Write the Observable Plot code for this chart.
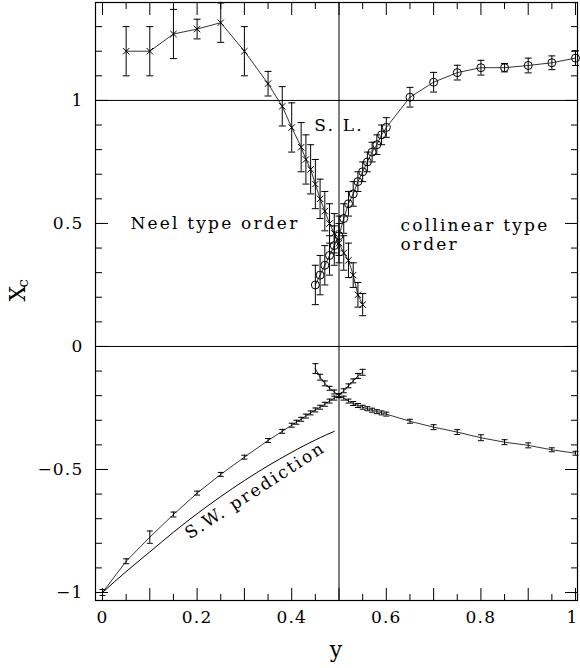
<!DOCTYPE html>
<html><head><meta charset="utf-8">
<script src="https://cdn.jsdelivr.net/npm/d3@7"></script>
<script src="https://cdn.jsdelivr.net/npm/@observablehq/plot@0.6"></script>
<style>
body{margin:0;background:#fff;}
.chart text{letter-spacing:1.2px;}
.chart g.annot text{letter-spacing:2.2px;}
</style></head><body><div id="c"></div>
<script>
// Upper region, Neel type order (x markers)
const neelX = [0.05,0.1,0.15,0.2,0.25,0.3,0.35,0.38,0.4,0.42,0.43,0.44,0.45,0.46,0.47,0.48,0.49,0.5,0.51,0.52,0.53,0.54,0.55];
const neelY = [1.2,1.2,1.27,1.29,1.316,1.2,1.068,0.976,0.89,0.81,0.76,0.72,0.66,0.6,0.55,0.5,0.46,0.42,0.38,0.35,0.29,0.21,0.17];
const neelE = [0.1,0.1,0.1,0.04,0.08,0.1,0.05,0.08,0.1,0.1,0.1,0.1,0.1,0.08,0.08,0.08,0.08,0.08,0.07,0.07,0.05,0.05,0.045];
// Upper region, collinear type order (circles)
const collX = [0.45,0.46,0.47,0.48,0.49,0.5,0.51,0.52,0.53,0.54,0.55,0.56,0.57,0.58,0.59,0.6,0.65,0.7,0.75,0.8,0.85,0.9,0.95,1.0];
const collY = [0.25,0.29,0.33,0.37,0.41,0.45,0.52,0.58,0.62,0.67,0.71,0.75,0.79,0.82,0.86,0.89,1.013,1.074,1.113,1.133,1.133,1.142,1.153,1.172];
const collE = [0.08,0.08,0.08,0.08,0.08,0.08,0.06,0.05,0.05,0.04,0.04,0.04,0.04,0.04,0.04,0.04,0.04,0.04,0.03,0.03,0.017,0.03,0.028,0.03];
// Lower region, Neel branch
const lowNeelX = [0,0.05,0.1,0.15,0.2,0.25,0.3,0.35,0.38,0.4,0.41,0.42,0.43,0.44,0.45,0.46,0.47,0.48,0.49,0.5,0.51,0.52,0.53,0.54,0.55];
const lowNeelY = [-1,-0.873,-0.775,-0.683,-0.596,-0.52,-0.45,-0.382,-0.345,-0.32,-0.308,-0.296,-0.283,-0.27,-0.258,-0.247,-0.235,-0.222,-0.21,-0.2,-0.18,-0.16,-0.14,-0.12,-0.105];
const lowNeelE = [0.012,0.01,0.025,0.01,0.008,0.008,0.008,0.008,0.008,0.008,0.008,0.008,0.008,0.008,0.008,0.008,0.008,0.008,0.008,0.008,0.008,0.008,0.008,0.01,0.012];
// Lower region, collinear branch
const lowCollX = [0.45,0.46,0.47,0.48,0.49,0.5,0.51,0.52,0.53,0.54,0.55,0.56,0.57,0.58,0.59,0.6,0.65,0.7,0.75,0.8,0.85,0.9,0.95,1.0];
const lowCollY = [-0.09,-0.125,-0.15,-0.17,-0.185,-0.2,-0.21,-0.222,-0.232,-0.24,-0.247,-0.253,-0.259,-0.265,-0.27,-0.275,-0.304,-0.328,-0.348,-0.371,-0.389,-0.402,-0.42,-0.434];
const lowCollE = [0.02,0.012,0.01,0.008,0.008,0.008,0.008,0.008,0.008,0.008,0.008,0.008,0.008,0.008,0.008,0.008,0.008,0.01,0.01,0.012,0.01,0.01,0.008,0.008];
// Spin-wave prediction curve
const swX = [0,0.05,0.1,0.15,0.2,0.25,0.3,0.35,0.4,0.45,0.49];
const swY = [-1,-0.915,-0.835,-0.755,-0.68,-0.61,-0.545,-0.485,-0.43,-0.38,-0.345];
// Ticks
const xLabelTicks = [0,0.2,0.4,0.6,0.8,1];
const xMajorTicks = [0,0.1,0.2,0.3,0.4,0.5,0.6,0.7,0.8,0.9,1];
const xMinorTicks = [0.05,0.15,0.25,0.35,0.45,0.55,0.65,0.75,0.85,0.95];
const yLabelTicks = [-1,-0.5,0,0.5,1];
const yMinorTicks = [-0.9,-0.8,-0.7,-0.6,-0.4,-0.3,-0.2,-0.1,0.1,0.2,0.3,0.4,0.6,0.7,0.8,0.9,1.1,1.2,1.3];
const refLinesY = [1, 0];
const refLinesX = [0.5];

const build = (xs, ys, es) => xs.map((x, i) => ({x, y: ys[i], e: es ? es[i] : 0}));
const neel = build(neelX, neelY, neelE);
const coll = build(collX, collY, collE);
const lowNeel = build(lowNeelX, lowNeelY, lowNeelE);
const lowColl = build(lowCollX, lowCollY, lowCollE);
const sw = build(swX, swY);

const hline = {draw(ctx, size){const r = Math.sqrt(size/Math.PI); ctx.moveTo(-r,0); ctx.lineTo(r,0);}};
const FONT = "DejaVu Serif";
const fmt = d => d === 0 ? "0" : (d < 0 ? "\u2212" + Math.abs(d) : String(d));

function errMarks(data, cap) {
  return [
    Plot.ruleX(data, {x: "x", y1: d => d.y - d.e, y2: d => d.y + d.e, stroke: "#000", strokeWidth: 1}),
    Plot.dot(data, {x: "x", y: d => d.y + d.e, symbol: hline, r: cap, stroke: "#000", strokeWidth: 1}),
    Plot.dot(data, {x: "x", y: d => d.y - d.e, symbol: hline, r: cap, stroke: "#000", strokeWidth: 1})
  ];
}

const chart = Plot.plot({
  width: 580, height: 668,
  marginLeft: 95, marginRight: 3, marginTop: 2, marginBottom: 68,
  className: "chart",
  style: {fontFamily: FONT, fontSize: "17px", background: "#fff", color: "#000"},
  x: {domain: [-0.0148, 1.0042]},
  y: {domain: [-1.0325, 1.398]},
  marks: [
    Plot.ruleY(refLinesY, {stroke: "#000", strokeWidth: 1}),
    Plot.ruleX(refLinesX, {stroke: "#000", strokeWidth: 1}),
    Plot.frame({stroke: "#000", strokeWidth: 1.2}),
    Plot.axisX(xMajorTicks, {anchor: "bottom", tickSize: -12, tickFormat: () => "", label: null}),
    Plot.axisX(xMajorTicks, {anchor: "top", tickSize: -12, tickFormat: () => "", label: null}),
    Plot.axisX(xMinorTicks, {anchor: "bottom", tickSize: -6, tickFormat: () => "", label: null}),
    Plot.axisX(xMinorTicks, {anchor: "top", tickSize: -6, tickFormat: () => "", label: null}),
    Plot.axisY(yLabelTicks, {anchor: "left", tickSize: -13, tickFormat: () => "", label: null}),
    Plot.axisY(yLabelTicks, {anchor: "right", tickSize: -13, tickFormat: () => "", label: null}),
    Plot.axisY(yMinorTicks, {anchor: "left", tickSize: -7, tickFormat: () => "", label: null}),
    Plot.axisY(yMinorTicks, {anchor: "right", tickSize: -7, tickFormat: () => "", label: null}),
    Plot.text(xLabelTicks.filter(d => d < 1), {x: d => d, frameAnchor: "bottom", dy: 22, text: fmt, fontSize: 17}),
    Plot.text(xLabelTicks.filter(d => d === 1), {x: d => d, frameAnchor: "bottom", dy: 22, dx: 3, text: fmt, fontSize: 17, textAnchor: "end"}),
    Plot.axisY(yLabelTicks, {anchor: "left", tickSize: 0, tickPadding: 12, tickFormat: fmt, label: null, fontSize: 17}),
    // S.W. prediction
    Plot.line(sw, {x: "x", y: "y", stroke: "#000", strokeWidth: 1, curve: "natural"}),
    // lower branches
    Plot.line(lowNeel, {x: "x", y: "y", stroke: "#000", strokeWidth: 0.8}),
    ...errMarks(lowNeel, 3),
    Plot.line(lowColl, {x: "x", y: "y", stroke: "#000", strokeWidth: 0.8}),
    ...errMarks(lowColl, 3),
    // upper branches
    Plot.line(neel, {x: "x", y: "y", stroke: "#000", strokeWidth: 0.8}),
    ...errMarks(neel, 3.5),
    Plot.dot(neel, {x: "x", y: "y", symbol: "times", r: 3, stroke: "#000", strokeWidth: 1}),
    Plot.line(coll, {x: "x", y: "y", stroke: "#000", strokeWidth: 0.8}),
    ...errMarks(coll, 3.5),
    Plot.dot(coll, {x: "x", y: "y", symbol: "circle", r: 4, stroke: "#000", fill: "none", strokeWidth: 1}),
    // annotations
    Plot.text(["Neel type order"], {x: 0.059, y: 0.5, textAnchor: "start", fontSize: 17, className: "annot"}),
    Plot.text(["S. L."], {x: 0.5, y: 0.898, textAnchor: "middle", fontSize: 17, className: "annot"}),
    Plot.text(["collinear type\norder"], {x: 0.63, y: 0.455, textAnchor: "start", fontSize: 17, lineHeight: 1.08, className: "annot"}),
    Plot.text(["S.W. prediction"], {x: 0.323, y: -0.585, rotate: -33, textAnchor: "middle", fontSize: 17, className: "annot"}),
    // axis titles
    Plot.text(["y"], {frameAnchor: "bottom", dy: 56, fontSize: 22}),
    Plot.text(["X"], {frameAnchor: "left", dx: -78, rotate: -90, fontSize: 22}),
    Plot.text(["c"], {frameAnchor: "left", dx: -72, dy: -14, rotate: -90, fontSize: 15})
  ]
});
document.getElementById("c").appendChild(chart);
</script></body></html>
